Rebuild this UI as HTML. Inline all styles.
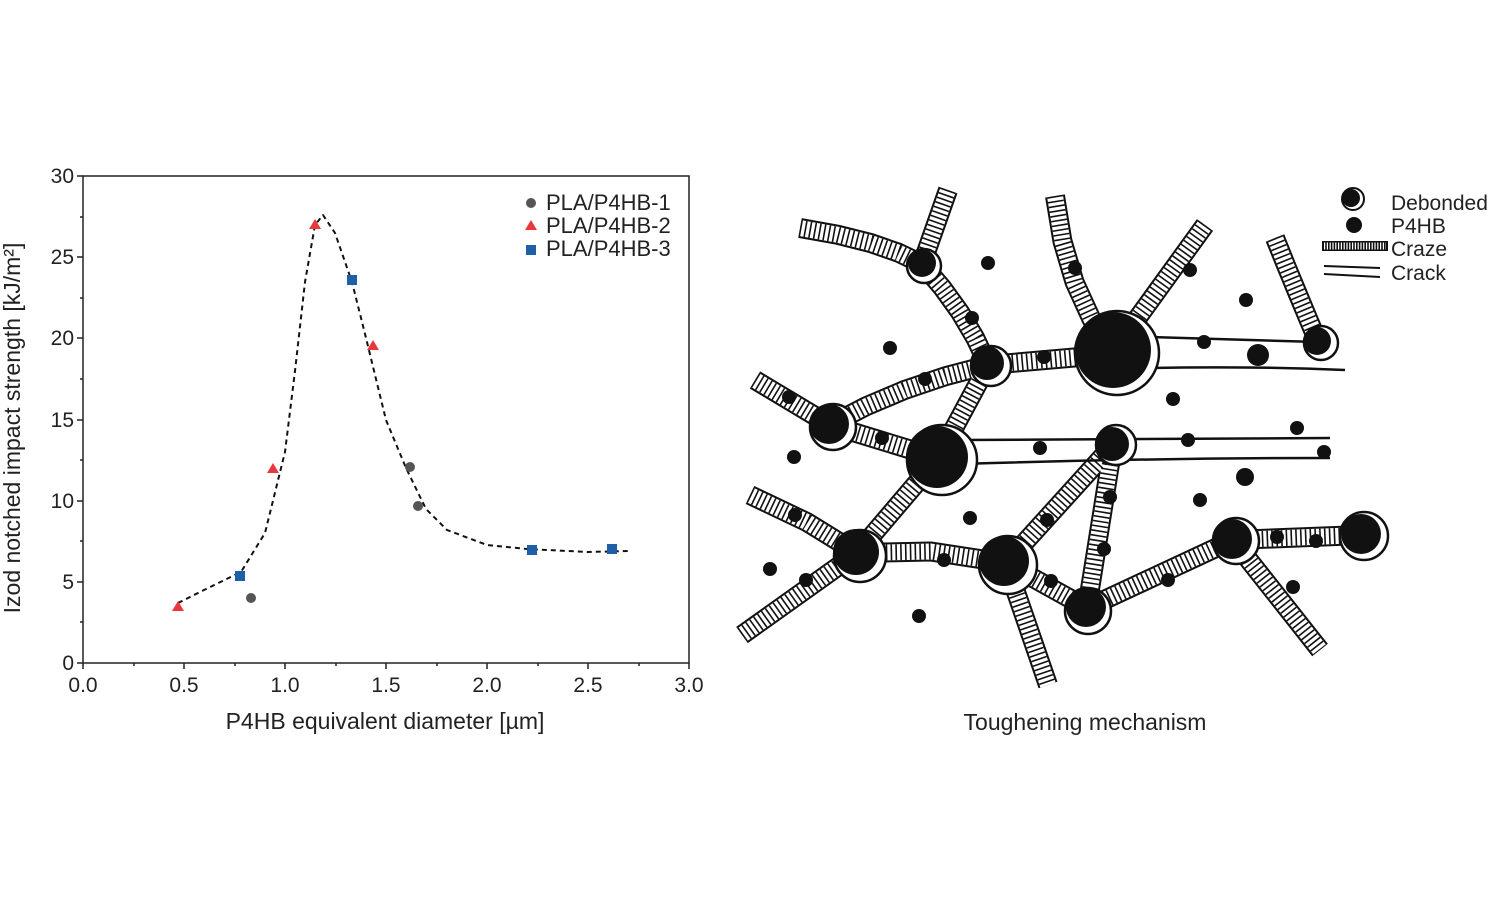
<!DOCTYPE html><html><head><style>body{margin:0;background:#fff}svg{display:block}text{font-family:"Liberation Sans",sans-serif}</style></head><body>
<svg width="1500" height="900" viewBox="0 0 1500 900">
<rect width="1500" height="900" fill="#fff"/>
<g stroke="#222" stroke-width="1.5" fill="none">
<rect x="83" y="176" width="606" height="487"/>
<path d="M77 663H83M77 582H83M77 501H83M77 420H83M77 338H83M77 257H83M77 176H83M80 622H83M80 541H83M80 460H83M80 379H83M80 298H83M80 217H83"/>
<path d="M83 663V669M184 663V669M285 663V669M386 663V669M487 663V669M588 663V669M689 663V669M134 663V666M235 663V666M336 663V666M437 663V666M538 663V666M639 663V666"/>
</g>
<g font-size="21" fill="#222" text-anchor="end">
<text x="74" y="670">0</text><text x="74" y="589">5</text><text x="74" y="508">10</text><text x="74" y="427">15</text><text x="74" y="345">20</text><text x="74" y="264">25</text><text x="74" y="183">30</text></g>
<g font-size="21" fill="#222" text-anchor="middle">
<text x="83" y="692">0.0</text><text x="184" y="692">0.5</text><text x="285" y="692">1.0</text><text x="386" y="692">1.5</text><text x="487" y="692">2.0</text><text x="588" y="692">2.5</text><text x="689" y="692">3.0</text></g>
<g font-size="23" fill="#222" text-anchor="middle">
<text x="385" y="729">P4HB equivalent diameter [µm]</text>
<text transform="translate(20,428) rotate(-90)">Izod notched impact strength [kJ/m²]</text>
<text x="1085" y="730">Toughening mechanism</text></g>
<polyline fill="none" stroke="#111" stroke-width="2" stroke-dasharray="5,4" stroke-linejoin="round" points="178,603 204,590 241,572 265,533 285,452 295,371 305,282 315,225 323,215 335,233 352,282 366,338 386,420 406,468 426,509 447,530 487,545 527,549 588,552 628,551"/>
<g fill="#555"><circle cx="410" cy="467" r="5"/><circle cx="418" cy="506" r="5"/><circle cx="251" cy="598" r="5"/></g>
<g fill="#e8383d"><path d="M178 601l6 10h-12z"/><path d="M273 463l6 10h-12z"/><path d="M315 219l6 10h-12z"/><path d="M373 340l6 10h-12z"/></g>
<g fill="#1f5fa8"><rect x="235" y="571" width="10" height="10"/><rect x="347" y="275" width="10" height="10"/><rect x="527" y="545" width="10" height="10"/><rect x="607" y="544" width="10" height="10"/></g>
<circle cx="531" cy="203" r="5" fill="#555"/><path d="M531 220l6 10h-12z" fill="#e8383d"/><rect x="526" y="245" width="10" height="10" fill="#1f5fa8"/>
<g font-size="22" fill="#222"><text x="546" y="210">PLA/P4HB-1</text><text x="546" y="233">PLA/P4HB-2</text><text x="546" y="256">PLA/P4HB-3</text></g>

<defs>
<g id="c">
<path d="M800 228L837.6 234.75L870.5 243L898.6 252.75L922 264"/>
<path d="M948 190L922 264"/>
<path d="M922 264L942.2 287.6L960 312.25L975.2 338L988 365"/>
<path d="M1055 196L1062.4 241L1074.5 282L1091.4 319L1113 352"/>
<path d="M1205 225L1113 352"/>
<path d="M1275 238L1287 267.8L1298.25 295L1308.6 319.8L1318 342"/>
<path d="M988 365L1080 357"/>
<path d="M755 380L830 425"/>
<path d="M830 425L866.1 406.3L904.5 390L945.1 376.3L988 365"/>
<path d="M830 425L938 458"/>
<path d="M988 365L938 458"/>
<path d="M750 495L806.75 522L857 553"/>
<path d="M938 458L857 553"/>
<path d="M742 635L857 553"/>
<path d="M857 553L930.75 551.5L1006 563"/>
<path d="M1006 563L1113 445"/>
<path d="M1006 563L1087 608"/>
<path d="M1113 445L1087 608"/>
<path d="M1087 608L1233 540"/>
<path d="M1233 540L1362 535"/>
<path d="M1006 563L1048 685"/>
<path d="M1233 540L1320 650"/>
</g></defs>
<use href="#c" fill="none" stroke="#111" stroke-width="20" stroke-linejoin="round"/>
<use href="#c" fill="none" stroke="#fff" stroke-width="16" stroke-linejoin="round"/>
<use href="#c" fill="none" stroke="#111" stroke-width="16" stroke-dasharray="1.6,3.2"/>
<g stroke="#111" stroke-width="2.5" fill="none">
<path d="M1150 337L1318 342M1150 368Q1250 366 1345 370"/>
<path d="M960 440L1330 438M960 464Q1150 458 1330 458"/>
</g>
<g stroke="#111" stroke-width="2.5" fill="#fff">
<circle cx="924" cy="266" r="17"/><circle cx="991" cy="366" r="20"/><circle cx="1117" cy="353" r="42"/><circle cx="1321" cy="343" r="17"/><circle cx="833" cy="427" r="23"/><circle cx="942" cy="460" r="35"/><circle cx="1116" cy="445" r="20"/><circle cx="860" cy="556" r="26"/><circle cx="1008" cy="565" r="29"/><circle cx="1088" cy="611" r="23"/><circle cx="1236" cy="541" r="23"/><circle cx="1364" cy="536" r="24"/>
</g>
<g fill="#111"><circle cx="922" cy="263" r="14"/><circle cx="987" cy="363" r="17"/><circle cx="1113" cy="350" r="38"/><circle cx="1317" cy="341" r="14"/><circle cx="829" cy="424" r="20"/><circle cx="937" cy="457" r="31"/><circle cx="1112" cy="444" r="17"/><circle cx="856" cy="552" r="23"/><circle cx="1004" cy="561" r="25"/><circle cx="1086" cy="607" r="20"/><circle cx="1232" cy="539" r="20"/><circle cx="1361" cy="534" r="20"/>
<circle cx="988" cy="263" r="7"/><circle cx="972" cy="318" r="7"/><circle cx="890" cy="348" r="7"/><circle cx="925" cy="379" r="7"/><circle cx="1075" cy="268" r="7"/><circle cx="1190" cy="270" r="7"/><circle cx="1246" cy="300" r="7"/><circle cx="1204" cy="342" r="7"/><circle cx="1258" cy="355" r="11"/><circle cx="1044" cy="357" r="7"/><circle cx="789" cy="397" r="7"/><circle cx="882" cy="438" r="7"/><circle cx="1173" cy="399" r="7"/><circle cx="1297" cy="428" r="7"/><circle cx="794" cy="457" r="7"/><circle cx="1040" cy="448" r="7"/><circle cx="1188" cy="440" r="7"/><circle cx="1324" cy="452" r="7"/><circle cx="1245" cy="477" r="9"/><circle cx="1200" cy="500" r="7"/><circle cx="1110" cy="497" r="7"/><circle cx="970" cy="518" r="7"/><circle cx="1047" cy="520" r="7"/><circle cx="795" cy="515" r="7"/><circle cx="1104" cy="549" r="7"/><circle cx="770" cy="569" r="7"/><circle cx="806" cy="580" r="7"/><circle cx="944" cy="560" r="7"/><circle cx="1051" cy="581" r="7"/><circle cx="1168" cy="580" r="7"/><circle cx="1277" cy="537" r="7"/><circle cx="1316" cy="541" r="7"/><circle cx="1293" cy="587" r="7"/><circle cx="919" cy="616" r="7"/></g>
<circle cx="1353" cy="199" r="11" fill="#fff" stroke="#111" stroke-width="2"/><circle cx="1351" cy="198" r="9" fill="#111"/>
<circle cx="1354" cy="225" r="8" fill="#111"/>
<path d="M1322 246L1388 246" stroke="#111" stroke-width="10" fill="none"/>
<path d="M1324 246L1386 246" stroke="#fff" stroke-width="7" fill="none" stroke-dasharray="1.2,1.6"/>
<path d="M1324 266L1380 268M1324 274L1380 277" stroke="#111" stroke-width="2"/>
<g font-size="21" fill="#222"><text x="1391" y="210">Debonded</text><text x="1391" y="233">P4HB</text><text x="1391" y="256">Craze</text><text x="1391" y="280">Crack</text></g>
</svg></body></html>
